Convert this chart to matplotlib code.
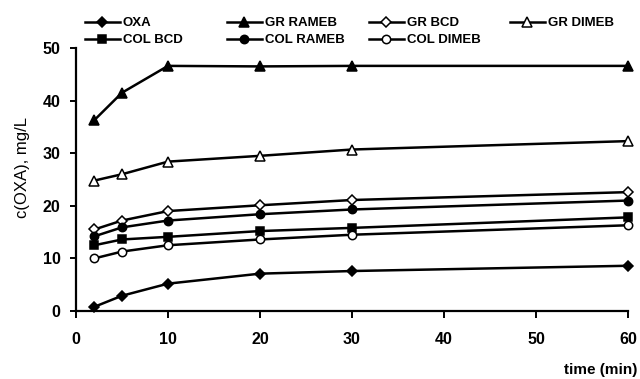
import matplotlib
matplotlib.use("Agg")
import matplotlib.pyplot as plt

plt.rcParams['font.family'] = ['Liberation Sans', 'DejaVu Sans']

# time points (min)
time = [2, 5, 10, 20, 30, 60]

# c(OXA), mg/L
oxa = [0.8, 2.9, 5.2, 7.1, 7.6, 8.6]
gr_rameb = [36.3, 41.5, 46.6, 46.5, 46.6, 46.6]
gr_bcd = [15.5, 17.2, 19.0, 20.1, 21.1, 22.6]
gr_dimeb = [24.8, 26.0, 28.4, 29.5, 30.7, 32.3]
col_bcd = [12.5, 13.6, 14.1, 15.2, 15.8, 17.8]
col_rameb = [14.2, 15.9, 17.2, 18.4, 19.3, 21.0]
col_dimeb = [10.0, 11.3, 12.5, 13.6, 14.5, 16.3]

series = [
    ('OXA', oxa, 'D', 'black'),
    ('GR RAMEB', gr_rameb, '^', 'black'),
    ('GR BCD', gr_bcd, 'D', 'white'),
    ('GR DIMEB', gr_dimeb, '^', 'white'),
    ('COL BCD', col_bcd, 's', 'black'),
    ('COL RAMEB', col_rameb, 'o', 'black'),
    ('COL DIMEB', col_dimeb, 'o', 'white'),
]
sizes = {'D': 5.5, '^': 6.5, 's': 6.0, 'o': 6.0}

fig = plt.figure(figsize=(6.4, 3.79), dpi=100)
ax = fig.add_axes([76 / 640, 68 / 379, 552 / 640, 263 / 379])

handles = {}
for name, vals, mk, fc in series:
    h, = ax.plot(time, vals, color='black', lw=1.8, marker=mk, ms=sizes[mk],
                 mfc=fc, mec='black', mew=1.1, clip_on=False, label=name)
    handles[name] = h

ax.set_xlim(0, 60)
ax.set_ylim(0, 50)
ax.set_xticks(range(0, 61, 10))
ax.set_yticks(range(0, 51, 10))
for s in ('top', 'right'):
    ax.spines[s].set_visible(False)
for s in ('left', 'bottom'):
    ax.spines[s].set_linewidth(1.6)
ax.tick_params(direction='out', width=1.4, labelsize=11.5)
ax.tick_params(axis='x', length=5, pad=10)
ax.tick_params(axis='y', length=4, pad=7)
for lbl in ax.get_xticklabels() + ax.get_yticklabels():
    lbl.set_fontweight('bold')

fig.text(23 / 640, 1 - 167 / 379, 'c(OXA), mg/L', rotation=90, fontsize=12,
         ha='center', va='center')
fig.text(637 / 640, 1 - 370 / 379, 'time (min)', fontsize=11, fontweight='bold',
         ha='right', va='center')

# legend: four columns placed by hand
cols = [['OXA', 'COL BCD'], ['GR RAMEB', 'COL RAMEB'],
        ['GR BCD', 'COL DIMEB'], ['GR DIMEB']]
col_x = [85, 227, 369, 510]
for names, x in zip(cols, col_x):
    fig.legend([handles[n] for n in names], names, loc='upper left',
               bbox_to_anchor=(x / 640, 1 - 17 / 379), frameon=False,
               borderpad=0, borderaxespad=0, handlelength=2.65,
               handletextpad=0.2, labelspacing=0.38,
               prop={'weight': 'bold', 'size': 9.5})

fig.savefig('out.png', dpi=100)
